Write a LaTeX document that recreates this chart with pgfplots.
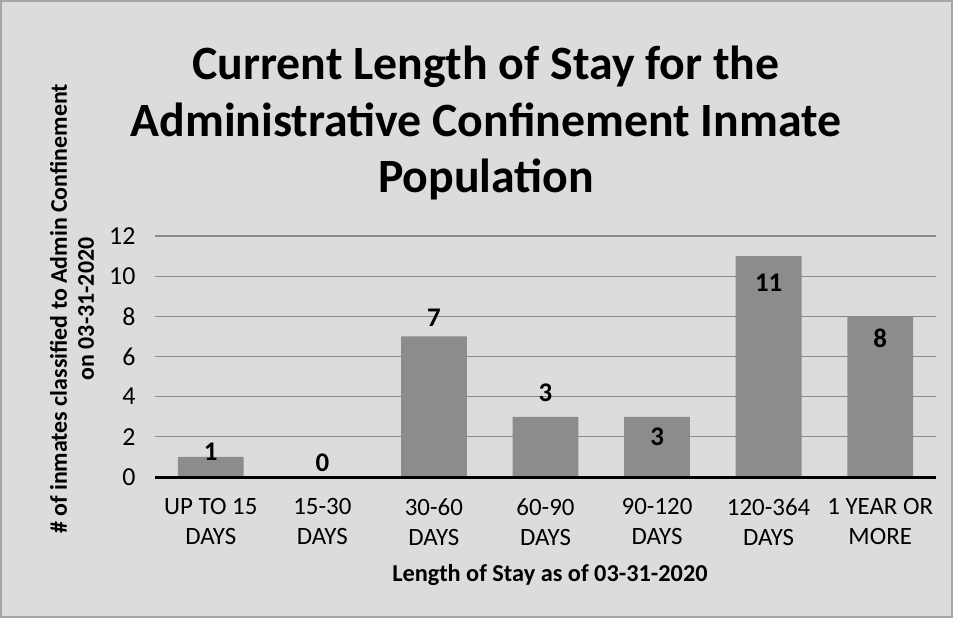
\documentclass[border=0pt]{standalone}
\usepackage{fontspec}
\setmainfont{Carlito}
\usepackage{pgfplots}
\pgfplotsset{compat=1.18}
\definecolor{bg}{HTML}{DCDCDC}
\definecolor{barc}{HTML}{8C8C8C}
\definecolor{gridc}{HTML}{8A8A8A}
\begin{document}
\begin{tikzpicture}
\fill[bg] (-155bp,-141bp) rectangle (798bp,477bp);
\draw[gray!70, line width=1.5bp] (-154bp,-140bp) rectangle (797bp,476bp);
\begin{axis}[
  at={(0,0)}, anchor=south west,
  width=781bp, height=241bp, scale only axis,
  xmin=-0.5, xmax=6.5, ymin=0, ymax=12,
  ytick={0,2,...,12},
  xtick={0,...,6},
  xticklabels={UP TO 15\\DAYS, 15-30\\DAYS, 30-60\\DAYS, 60-90\\DAYS, 90-120\\DAYS, 120-364\\DAYS, 1 YEAR OR\\MORE},
  xticklabel style={align=center, font=\fontsize{25}{30}\selectfont, yshift=-18bp},
  yticklabel style={font=\fontsize{26}{28}\selectfont, xshift=-16bp},
  /pgf/number format/assume math mode=true,
  axis line style={draw=none},
  major tick length=0pt,
  ymajorgrids, grid style={gridc, line width=1.2bp},
  clip=false,
]
\addplot[ybar, fill=barc, draw=none, bar width=0.59] coordinates {(0,1) (1,0) (2,7) (3,3) (4,3) (5,11) (6,8)};
\addplot[black, line width=3bp] coordinates {(-0.5,0) (6.5,0)};
\addplot[draw=none, mark=none, nodes near coords, point meta=explicit symbolic,
  every node near coord/.append style={anchor=center, font=\bfseries\fontsize{27}{28}\selectfont}]
  table[meta=lab] {
x y lab
0 1.25 1
1 0.72 0
2 7.92 7
3 4.18 3
4 1.99 3
5 9.66 11
6 6.92 8
};
\end{axis}
\node[font=\bfseries\fontsize{48}{57}\selectfont, align=center] at (331bp,354bp) {Current Length of Stay for the\\Administrative Confinement Inmate\\Population};
\node[rotate=90, font=\bfseries\fontsize{24}{27}\selectfont, align=center] at (-83bp,168bp) {\# of inmates classified to Admin Confinement\\on 03-31-2020};
\node[font=\bfseries\fontsize{24.4}{26}\selectfont] at (395bp,-98bp) {Length of Stay as of 03-31-2020};
\end{tikzpicture}
\end{document}
